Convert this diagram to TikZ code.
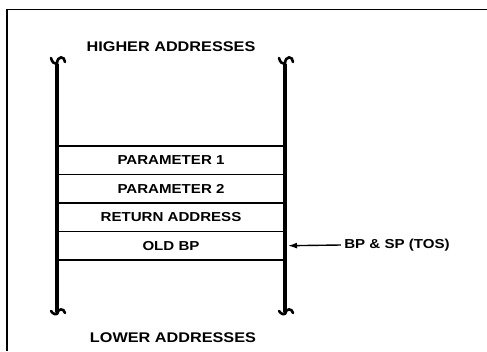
\documentclass[tikz,border=0pt]{standalone}
\usepackage{fontspec}
\setmainfont{Liberation Sans}[FakeStretch=1.16]
\usetikzlibrary{arrows.meta,positioning}

\begin{document}
\begin{tikzpicture}[x=1pt, y=-1pt,
    cell/.style={rectangle, draw, line width=1.2pt, minimum width=228pt, minimum height=28.5pt, inner sep=0pt, outer sep=0pt, font=\fontsize{13}{15}\selectfont\bfseries},
    addr/.style={font=\fontsize{14}{16}\selectfont\bfseries},
    rail/.style={line width=3.2pt},
    hook/.style={line width=2.6pt, line cap=round},
    arrow/.style={-{Latex[length=9pt,width=6pt]}, line width=1.4pt, shorten >=3pt}
]
\useasboundingbox (0,0) rectangle (487,351);
% frame
\draw[line width=1.6pt] (487,9.5) -- (7,9.5) -- (7,351);

% stack
\node[addr] (high) at (171,47) {HIGHER ADDRESSES};
\node[cell] (par1) at (171,160.25) {PARAMETER 1};
\node[cell, below=0pt of par1] (par2) {PARAMETER 2};
\node[cell, below=0pt of par2] (ret) {RETURN ADDRESS};
\node[cell, below=0pt of ret] (oldbp) {OLD BP};
\node[addr] (low) at (173,338) {LOWER ADDRESSES};

\draw[line width=2.8pt] (par1.north west) -- (par1.north east);
\draw[line width=2.8pt] (oldbp.south west) -- (oldbp.south east);

% rails
\coordinate (ltop) at (57,64);
\coordinate (lbot) at (57,312);
\coordinate (rtop) at (285,64);
\coordinate (rbot) at (285,312);
\draw[rail] (ltop) -- (lbot);
\draw[rail] (rtop) -- (rbot);

% broken ends
\draw[hook] (ltop) ++(-6,-6) .. controls +(1,4) and +(-3,0) .. (ltop) .. controls +(0,-9) and +(0,-6) .. ++(8,-2);
\draw[hook] (rtop) ++(-6,-6) .. controls +(1,4) and +(-3,0) .. (rtop) .. controls +(0,-9) and +(0,-6) .. ++(8,-2);
\draw[hook] (lbot) .. controls +(0,4) and +(2,3) .. ++(-6,-1);
\draw[hook] (lbot) ++(0,2) .. controls +(1,-6) and +(-1,-5) .. ++(8,-1);
\draw[hook] (rbot) .. controls +(0,4) and +(2,3) .. ++(-6,-1);
\draw[hook] (rbot) ++(0,2) .. controls +(1,-6) and +(-1,-5) .. ++(8,-1);

% pointer
\node[font=\fontsize{13}{15}\selectfont\bfseries] (tos) at (397,245) {BP \& SP (TOS)};
\draw[arrow] (tos.west) -- (oldbp.east);
\end{tikzpicture}
\end{document}
